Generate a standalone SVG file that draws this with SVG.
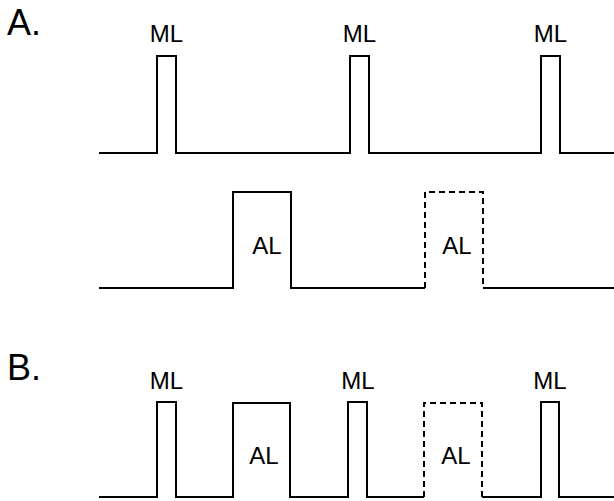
<svg xmlns="http://www.w3.org/2000/svg" width="614" height="501" viewBox="0 0 614 501">
<style>
.w{fill:none;stroke:#000;stroke-width:2;stroke-linejoin:miter}
.d{fill:none;stroke:#000;stroke-width:2;stroke-dasharray:6,4}
.t{font-family:"Liberation Sans",Arial,sans-serif;font-size:24px;fill:#000;text-anchor:middle}
.h{font-family:"Liberation Sans",Arial,sans-serif;font-size:36px;fill:#000}
</style>
<rect width="614" height="501" fill="#fff"/>
<g id="panelA">
<text class="h" x="7" y="35">A.</text>
<g id="ML-trace-A">
<path class="w" d="M99,153 H157 V56 H176 V153 H350 V56 H369 V153 H541 V56 H560 V153 H614"/>
<text class="t" x="166.5" y="42">ML</text>
<text class="t" x="359.5" y="42">ML</text>
<text class="t" x="550.5" y="42">ML</text>
</g>
<g id="AL-trace-A">
<path class="w" d="M99,288 H233 V192 H291 V288 H425"/>
<path class="d" d="M425,288 V192 H483 V288"/>
<path class="w" d="M483,288 H614"/>
<text class="t" x="267" y="254">AL</text>
<text class="t" x="457" y="254">AL</text>
</g>
</g>
<g id="panelB">
<text class="h" x="7" y="380">B.</text>
<g id="trace-B">
<path class="w" d="M99,497 H157 V402 H176 V497 H233 V403 H290 V497 H348 V402 H367 V497 H424"/>
<path class="d" d="M424,497 V403 H482 V497"/>
<path class="w" d="M482,497 H541 V402 H559 V497 H614"/>
<text class="t" x="166.5" y="389">ML</text>
<text class="t" x="358" y="389">ML</text>
<text class="t" x="550" y="389">ML</text>
<text class="t" x="264" y="464">AL</text>
<text class="t" x="456" y="464">AL</text>
</g>
</g>
</svg>
